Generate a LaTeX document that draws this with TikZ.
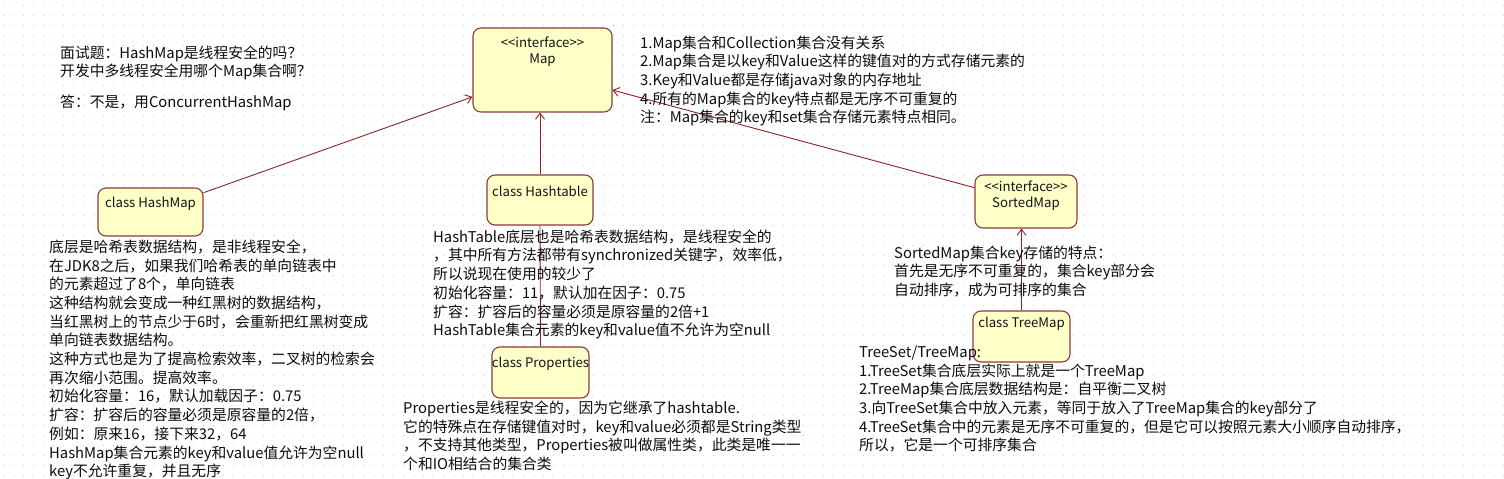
\documentclass[tikz,border=0pt]{standalone}
\usepackage{fontspec}
\setmainfont{Noto Sans CJK SC}
\usetikzlibrary{arrows.meta}
\definecolor{boxfill}{HTML}{FFFFC8}
\definecolor{boxedge}{HTML}{8A3B3B}
\definecolor{linkcol}{HTML}{8E2323}
\colorlet{gridcol}{black!20}
\newcommand\notesize{\fontsize{14.8}{18.7}\selectfont}
\newcommand\boxsize{\fontsize{13.2}{16}\selectfont}
\tikzstyle{umlbox}=[draw=boxedge,fill=boxfill,line width=1.1,rounded corners=8,inner sep=0]
\tikzstyle{boxtext}=[inner sep=0,anchor=north,align=center,font=\boxsize,text=black!92]
\tikzstyle{note}=[inner sep=0,anchor=north west,align=left,font=\notesize,text=black!95,execute at begin node=\strut]
\tikzstyle{inherit}=[linkcol,line width=0.9,-{Straight Barb[length=6,width=9]}]
\tikzstyle{link}=[linkcol,line width=0.9]

\begin{document}
\begin{tikzpicture}[x=1pt,y=-1pt]
  % CANVAS
  \fill[white] (0,0) rectangle (1504,479);
  \useasboundingbox (0,0) rectangle (1504,479);
  \foreach \r in {5,15,...,475}
    \draw[gridcol,line width=1,dash pattern=on 1 off 9] (3,\r) -- (1504,\r);

  % BOXES
  \node[umlbox,minimum width=139,minimum height=84] (map) at (542.5,70) {};
  \node[umlbox,minimum width=105,minimum height=48] (hashmap) at (150.5,212) {};
  \node[umlbox,minimum width=106,minimum height=50] (hashtable) at (540,200) {};
  \node[umlbox,minimum width=97,minimum height=51] (properties) at (540.5,372.5) {};
  \node[umlbox,minimum width=102,minimum height=53] (sortedmap) at (1026,201.5) {};
  \node[umlbox,minimum width=97,minimum height=51] (treemap) at (1021.5,336.5) {};

  \node[boxtext] (maptxt) at ([yshift=-9.5]map.north) {{<}{<}interface{>}{>}\\Map};
  \node[boxtext] (hashmaptxt) at ([yshift=-9.5]hashmap.north) {class HashMap};
  \node[boxtext] (hashtabletxt) at ([yshift=-11.5]hashtable.north) {class Hashtable};
  \node[boxtext] (propertiestxt) at ([yshift=-10.5]properties.north) {class Properties};
  \node[boxtext] (sortedmaptxt) at ([yshift=-6.5]sortedmap.north) {{<}{<}interface{>}{>}\\SortedMap};
  \node[boxtext] (treemaptxt) at ([yshift=-6.5]treemap.north) {class TreeMap};

  % LINKS
  \draw[inherit] (hashmap.20) -- (map.201);
  \draw[inherit] (hashtable.north) -- (hashtable.north |- map.south);
  \draw[link] (properties.north) -- (hashtable.south);
  \draw[inherit] (sortedmap.165) -- (map.-16);
  \draw[inherit] (treemap.north) -- (treemap.north |- sortedmap.south);

  % NOTES
  \node[note] (quiz) at (60,45.5) {面试题：HashMap是线程安全的吗？\\开发中多线程安全用哪个Map集合啊？\\[12pt]答：不是，用ConcurrentHashMap};
  \node[note] (mapnote) at (640,35.5) {1.Map集合和Collection集合没有关系\\
    2.Map集合是以key和Value这样的键值对的方式存储元素的\\
    3.Key和Value都是存储java对象的内存地址\\
    4.所有的Map集合的key特点都是无序不可重复的\\
    注：Map集合的key和set集合存储元素特点相同。};
  \node[note] (hashmapnote) at (49,239.5) {底层是哈希表数据结构，是非线程安全，\\
    在JDK8之后，如果我们哈希表的单向链表中\\
    的元素超过了8个，单向链表\\
    这种结构就会变成一种红黑树的数据结构，\\
    当红黑树上的节点少于6时，会重新把红黑树变成\\
    单向链表数据结构。\\
    这种方式也是为了提高检索效率，二叉树的检索会\\
    再次缩小范围。提高效率。\\
    初始化容量：16，默认加载因子：0.75\\
    扩容：扩容后的容量必须是原容量的2倍，\\
    例如：原来16，接下来32，64\\
    HashMap集合元素的key和value值允许为空null\\
    key不允许重复，并且无序};
  \node[note] (hashtablenote) at (433,229.5) {HashTable底层也是哈希表数据结构，是线程安全的\\
    ，其中所有方法都带有synchronized关键字，效率低，\\
    所以说现在使用的较少了\\
    初始化容量：11，默认加在因子：0.75\\
    扩容：扩容后的容量必须是原容量的2倍+1\\
    HashTable集合元素的key和value值不允许为空null};
  \node[note] (propnote) at (403,400.5) {Properties是线程安全的，因为它继承了hashtable.\\
    它的特殊点在存储键值对时，key和value必须都是String类型\\
    ，不支持其他类型，Properties被叫做属性类，此类是唯一一\\
    个和IO相结合的集合类};
  \node[note] (sortednote) at (894,245.5) {SortedMap集合key存储的特点：\\
    首先是无序不可重复的，集合key部分会\\
    自动排序，成为可排序的集合};
  \node[note] (treenote) at (859,345.5) {TreeSet/TreeMap:\\
    1.TreeSet集合底层实际上就是一个TreeMap\\
    2.TreeMap集合底层数据结构是：自平衡二叉树\\
    3.向TreeSet集合中放入元素，等同于放入了TreeMap集合的key部分了\\
    4.TreeSet集合中的元素是无序不可重复的，但是它可以按照元素大小顺序自动排序，\\
    所以，它是一个可排序集合};
\end{tikzpicture}
\end{document}
